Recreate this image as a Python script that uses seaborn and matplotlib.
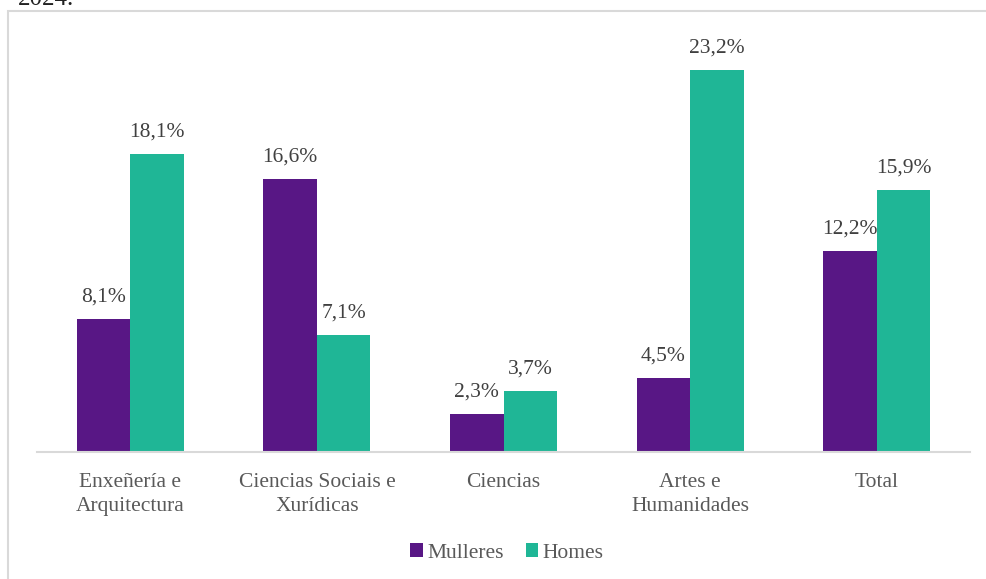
import matplotlib
matplotlib.use("Agg")
import matplotlib.pyplot as plt
import seaborn as sns
import pandas as pd
from matplotlib.patches import Rectangle, Patch

categories = ["Enxeñería e\nArquitectura", "Ciencias Sociais e\nXurídicas", "Ciencias",
              "Artes e\nHumanidades", "Total"]
mulleres = [8.1, 16.6, 2.3, 4.5, 12.2]
homes = [18.1, 7.1, 3.7, 23.2, 15.9]
series = ["Mulleres", "Homes"]
colors = ["#581785", "#1FB696"]

df = pd.DataFrame({
    "cat": categories * 2,
    "val": mulleres + homes,
    "serie": [series[0]] * len(categories) + [series[1]] * len(categories),
})

sns.set_theme(style="white")
plt.rcParams["font.family"] = ["Liberation Serif", "DejaVu Serif"]
text_col = "#595959"

W, H = 986, 579
fig = plt.figure(figsize=(W / 100, H / 100), dpi=100)
ax = fig.add_axes([37 / W, 1 - 452 / H, 933 / W, (452 - 30) / H])

sns.barplot(data=df, x="cat", y="val", hue="serie", palette=colors,
            width=0.574, saturation=1, ax=ax, legend=False, linewidth=0)

ax.set_xlim(-0.5, 4.5)
ax.set_ylim(0, (452 - 30) / 16.47)
ax.set_yticks([])
ax.set_xlabel("")
ax.set_ylabel("")
for s in ["top", "right", "left"]:
    ax.spines[s].set_visible(False)
ax.spines["bottom"].set_color("#D9D9D9")
ax.spines["bottom"].set_linewidth(1.5)
ax.tick_params(axis="x", length=0, pad=15, labelsize=15.5, labelcolor=text_col)
for lbl in ax.get_xticklabels():
    lbl.set_linespacing(1.35)

for cont in ax.containers:
    ax.bar_label(cont, labels=[f"{v:.1f}%".replace(".", ",") for v in cont.datavalues],
                 padding=9, fontsize=15.5, color="#404040")

handles = [Patch(facecolor=c, edgecolor="none") for c in colors]
fig.legend(handles, series, loc="center", bbox_to_anchor=(507 / W, 1 - 553 / H),
           ncol=2, frameon=False, fontsize=15.5, labelcolor=text_col,
           handlelength=0.6, handleheight=0.6, handletextpad=0.2, columnspacing=1.0)

fig.patches.append(Rectangle((8 / W, -0.05), 1.1, 1 - 11 / H + 0.05,
                             transform=fig.transFigure, fill=False,
                             edgecolor="#D9D9D9", linewidth=1.5))
fig.text(18 / W, 1 - 5 / H, "2024.", fontsize=18, color="#222222", va="baseline")

fig.savefig("out.png", dpi=100)
